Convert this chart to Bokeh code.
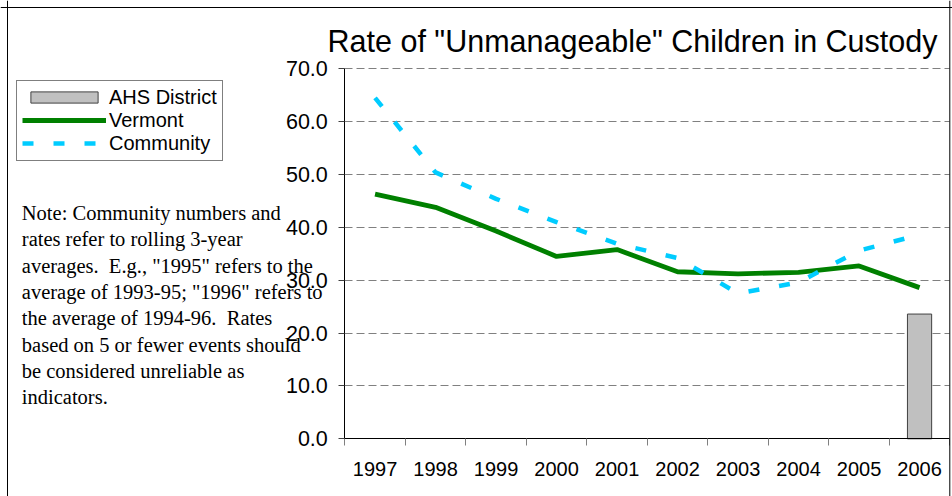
from bokeh.plotting import figure
from bokeh.models import (Range1d, LinearAxis, FixedTicker, Grid,
                          PrintfTickFormatter, Legend, LegendItem, Label, Span,
                          ColumnDataSource)
from bokeh.embed import file_html
from bokeh.resources import INLINE

# ---------------- data ----------------
YEARS = ["1997", "1998", "1999", "2000", "2001", "2002", "2003", "2004", "2005", "2006"]
VERMONT = [46.3, 43.8, 39.3, 34.5, 35.8, 31.6, 31.2, 31.5, 32.7, 28.6]
COMMUNITY = [64.5, 50.4, 45.4, 41.0, 36.9, 34.2, 27.5, 29.6, 35.6, 38.6]
AHS_DISTRICT = [None, None, None, None, None, None, None, None, None, 23.6]
Y_TICKS = [0, 10, 20, 30, 40, 50, 60, 70]
SERIES = ["AHS District", "Vermont", "Community"]
TITLE = 'Rate of "Unmanageable" Children in Custody'
NOTE_LINES = [
    "Note: Community numbers and",
    "rates refer to rolling 3-year",
    'averages.\u00a0 E.g., "1995" refers to the',
    'average of 1993-95; "1996" refers to',
    "the average of 1994-96.\u00a0 Rates",
    "based on 5 or fewer events should",
    "be considered unreliable as",
    "indicators.",
]

SANS = "Liberation Sans"
SERIF = "Liberation Serif"

# category slots: each year occupies one unit, centred at i + 0.5
N = len(YEARS)
XC = [i + 0.5 for i in range(N)]
BOUNDS = list(range(N + 1))

# ---------------- layout (pixels) ----------------
W, H = 952, 496
PL, PR, PT, PB = 344.3, 949.3, 68.3, 438.3     # plot-area edges on the canvas
ux = (PR - PL) / N
uy = (PB - PT) / (Y_TICKS[-1] - Y_TICKS[0])
x_range = Range1d(-PL / ux, N + (W - PR) / ux)
y_range = Range1d(Y_TICKS[0] - (H - PB) / uy, Y_TICKS[-1] + PT / uy)

p = figure(width=W, height=H, x_range=x_range, y_range=y_range,
           x_axis_type=None, y_axis_type=None,
           output_backend="svg", toolbar_location=None, tools="",
           min_border=0)
p.outline_line_color = None
p.background_fill_color = "white"
p.border_fill_color = "white"

# outer chart border (left and top edges visible)
p.add_layout(Span(location=7, location_units="screen", dimension="height",
                  line_color="black", line_width=1))
p.add_layout(Span(location=H - 7, location_units="screen", dimension="width",
                  line_color="black", line_width=1))

# ---------------- grid ----------------
grid_kw = dict(dimension=1, ticker=FixedTicker(ticks=Y_TICKS[1:]),
               grid_line_color="#808080", grid_line_dash="8 4", grid_line_width=1)
if "cross_bounds" in Grid.properties():
    p.add_layout(Grid(cross_bounds=(0, N), **grid_kw))
else:
    p.segment(x0=0, x1=N, y0=Y_TICKS[1:], y1=Y_TICKS[1:], line_color="#808080",
              line_dash="8 4", line_width=1)

# ---------------- axes ----------------
yax = LinearAxis(ticker=FixedTicker(ticks=Y_TICKS), fixed_location=0,
                 bounds=(Y_TICKS[0], Y_TICKS[-1]),
                 formatter=PrintfTickFormatter(format="%.1f"))
yax.axis_line_color = "black"
yax.major_tick_line_color = "#404040"
yax.major_tick_out = 6
yax.major_tick_in = 0
yax.minor_tick_line_color = None
yax.major_label_standoff = 11
yax.major_label_text_font = SANS
yax.major_label_text_font_size = "21.5px"
yax.major_label_text_color = "black"
p.add_layout(yax, "left")

xax = LinearAxis(ticker=FixedTicker(ticks=XC, minor_ticks=BOUNDS), fixed_location=0,
                 bounds=(0, N),
                 major_label_overrides={c: y for c, y in zip(XC, YEARS)})
xax.axis_line_color = "black"
xax.major_tick_line_color = None
xax.major_tick_out = 0
xax.major_tick_in = 0
xax.minor_tick_line_color = "#808080"
xax.minor_tick_out = 7
xax.minor_tick_in = 0
xax.major_label_standoff = 16
xax.major_label_text_font = SANS
xax.major_label_text_font_size = "20px"
xax.major_label_text_color = "black"
p.add_layout(xax, "below")

p.add_layout(Span(location=N, dimension="height", line_color="black", line_width=1))

# ---------------- series ----------------
bar_src = ColumnDataSource(dict(
    x=[c for c, v in zip(XC, AHS_DISTRICT) if v is not None],
    top=[v for v in AHS_DISTRICT if v is not None]))
bars = p.vbar(x="x", top="top", bottom=0, width=0.4, source=bar_src,
              fill_color="#C0C0C0", line_color="#404040", line_width=1)
verm = p.line(XC, VERMONT, line_color="#008000", line_width=4.8)
comm = p.line(XC, COMMUNITY, line_color="#00CCFF", line_width=4.5,
              line_dash="11 20")

legend = Legend(items=[LegendItem(label=SERIES[0], renderers=[bars]),
                       LegendItem(label=SERIES[1], renderers=[verm]),
                       LegendItem(label=SERIES[2], renderers=[comm])],
                location=(16, H - 160.7), orientation="vertical",
                glyph_width=84, glyph_height=14, label_height=22,
                padding=5, spacing=0, label_standoff=3, margin=0,
                label_text_font=SANS, label_text_font_size="20px",
                label_text_color="black",
                border_line_color="black", border_line_width=1,
                background_fill_color="white", background_fill_alpha=1)
p.add_layout(legend)

# ---------------- texts ----------------
p.add_layout(Label(x=632, y=H - 40, x_units="screen", y_units="screen",
                   text=TITLE, text_align="center", text_baseline="alphabetic",
                   text_font=SANS, text_font_size="30.5px", text_color="black"))

for i, line in enumerate(NOTE_LINES):
    base = 212.5 + i * 26.3
    p.add_layout(Label(x=21.3, y=H - base, x_units="screen",
                       y_units="screen", text=line, text_align="left",
                       text_baseline="alphabetic", text_font=SERIF,
                       text_font_size="20.5px", text_color="black"))

open("out.html", "w").write(file_html(p, INLINE))
